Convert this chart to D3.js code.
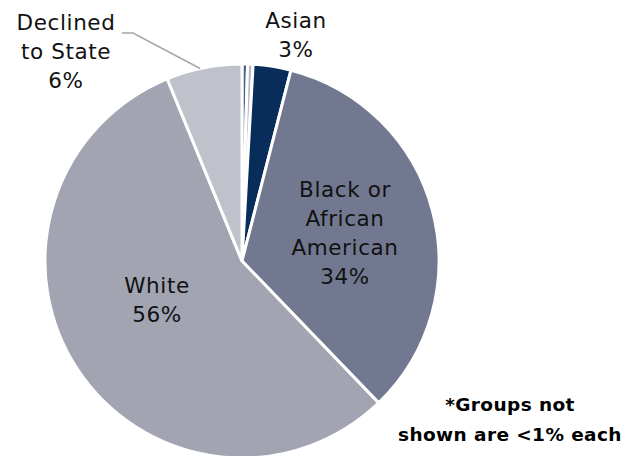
<!DOCTYPE html>
<html><head><meta charset="utf-8">
<script src="https://cdn.jsdelivr.net/npm/d3@7"></script>
<style>body{margin:0;background:#fff}svg{display:block}</style>
</head><body>
<svg id="c" width="634" height="456"></svg>
<script>
const categories = ["Other A", "Other B", "Asian", "Black or African American", "White", "Declined to State"];
const values = [0.45, 0.45, 3.1, 33.8, 56.0, 6.2];
const labels = [null, null, ["Asian", "3%"], ["Black or", "African", "American", "34%"], ["White", "56%"], ["Declined", "to State", "6%"]];
const colors = ["#4d5d80", "#b4bac8", "#082d5b", "#717890", "#a2a4b1", "#bfc2ca"];
const footnote = ["*Groups not", "shown are <1% each"];

const svg = d3.select("#c");
const cx = 242, cy = 261, R = 197;
const g = svg.append("g").attr("transform", `translate(${cx},${cy})`);
const pie = d3.pie().sort(null).value(d => d)(values);
const arc = d3.arc().innerRadius(0).outerRadius(R);
g.selectAll("path").data(pie).join("path")
  .attr("d", arc).attr("fill", (d, i) => colors[i])
  .attr("stroke", "#fff").attr("stroke-width", 3).attr("stroke-linejoin", "miter");

const font = "DejaVu Sans, sans-serif";
const lh = 29;
const labelPos = {
  2: [296 - cx, 28 - cy],
  3: [345 - cx, 197 - cy],
  4: [157 - cx, 293 - cy],
  5: [66 - cx, 30 - cy]
};
pie.forEach((d, i) => {
  if (!labels[i]) return;
  const p = labelPos[i];
  const t = g.append("text").attr("text-anchor", "middle")
    .attr("font-family", font).attr("font-size", 21.5).attr("letter-spacing", 0.6)
    .attr("fill", "#111");
  labels[i].forEach((s, k) => t.append("tspan").attr("x", p[0]).attr("y", p[1] + k * lh).text(s));
});
const dec = pie[5];
const a = dec.startAngle + (dec.endAngle - dec.startAngle) * 0.45;
const ex = Math.sin(a) * R, ey = -Math.cos(a) * R;
g.append("polyline")
  .attr("points", [[122 - cx, 33 - cy], [133 - cx, 33 - cy], [ex, ey]].map(p => p.join(",")).join(" "))
  .attr("fill", "none").attr("stroke", "#a6a6a6").attr("stroke-width", 1.5);

const ft = svg.append("text").attr("text-anchor", "middle")
  .attr("font-family", font).attr("font-weight", "bold").attr("font-size", 18.5).attr("letter-spacing", 0.4).attr("fill", "#000");
footnote.forEach((s, k) => ft.append("tspan").attr("x", 510).attr("y", 411 + k * 30).text(s));
</script>
</body></html>
